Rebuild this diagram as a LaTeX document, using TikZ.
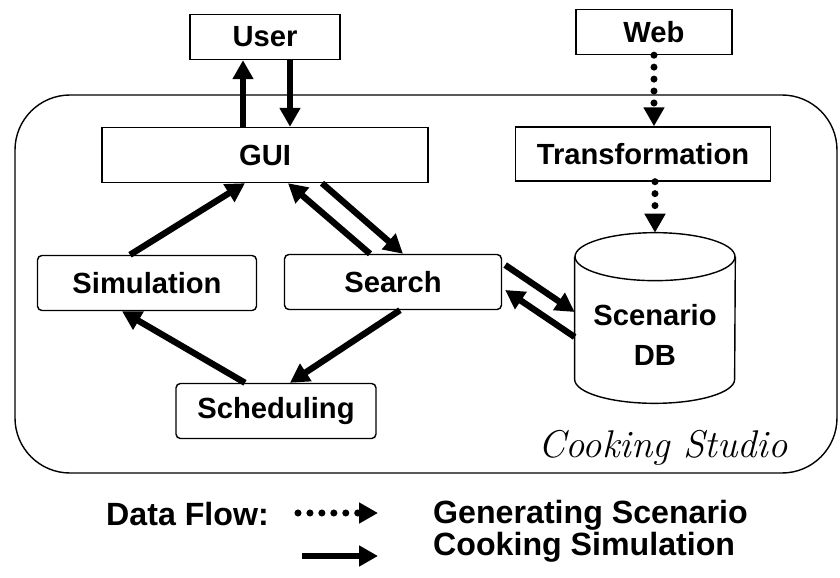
\documentclass[tikz,border=0pt]{standalone}
\usepackage{fontspec}
\newfontfamily\boxfont{Liberation Sans}
\usetikzlibrary{arrows.meta}
\newcommand\CylinderAround[1]{%
    \draw[line width=0.8pt] ([yshift=-0.48cm]#1.north) ellipse [x radius=1.6cm, y radius=0.48cm];
    \draw[line width=0.8pt] ([yshift=-0.48cm]#1.north west) -- ([yshift=0.48cm]#1.south west)
        arc [start angle=180, end angle=360, x radius=1.6cm, y radius=0.48cm]
        -- ([yshift=-0.48cm]#1.north east);
}

\begin{document}
\begin{tikzpicture}[x=0.02cm, y=-0.02cm,
    txt/.style={font=\boxfont\bfseries\fontsize{16.6}{23}\selectfont},
    box/.style={txt, draw, line width=0.8pt, inner sep=0pt},
    module/.style={box, rounded corners=2.5pt},
    legend/.style={font=\boxfont\bfseries\fontsize{18.3}{20}\selectfont},
    flow/.style={line width=3.6pt, -{Triangle[length=0.38cm, width=0.4cm]}},
    gen/.style={line width=4pt, line cap=round, dash pattern=on 0pt off 6.8pt,
        -{Triangle[length=0.38cm, width=0.4cm]}}]
    \useasboundingbox (0,0) rectangle (840,578);
    \draw[line width=0.8pt, rounded corners=1.1cm] (15,95) rectangle (837,473);
    \node[font=\fontsize{22}{24}\selectfont\itshape, anchor=base] (studio) at (663,457) {Cooking Studio};

    \node[box, minimum width=3.0cm, minimum height=0.9cm] (user) at (265,37) {User};
    \node[box, minimum width=3.12cm, minimum height=0.9cm] (web) at (654,32) {Web};
    \node[box, minimum width=6.52cm, minimum height=1.1cm] (gui) at (265,155) {GUI};
    \node[box, minimum width=5.1cm, minimum height=1.08cm] (trans) at (643,154) {Transformation};
    \node[module, minimum width=4.38cm, minimum height=1.1cm] (sim) at (147,283) {Simulation};
    \node[module, minimum width=4.34cm, minimum height=1.1cm] (search) at (393,282) {Search};
    \node[module, minimum width=4.0cm, minimum height=1.1cm] (sched) at (276,411) {Scheduling};
    \node[minimum width=3.2cm, minimum height=3.4cm, inner sep=0pt] (db) at (655,318) {};
    \CylinderAround{db}
    \node[txt, align=center] (dbname) at ([yshift=-0.34cm]db.center) {Scenario\\DB};

    % cooking simulation
    \draw[flow] ([xshift=-0.44cm]gui.north) -- ([xshift=-0.44cm]user.south);
    \draw[flow] ([xshift=0.5cm]user.south) -- ([xshift=0.5cm]gui.north);
    \draw[flow] ([xshift=-0.34cm]sim.north) -- ([xshift=-0.4cm]gui.south);
    \draw[flow] ([xshift=-0.46cm]search.north) -- ([xshift=0.46cm]gui.south);
    \draw[flow] ([xshift=1.14cm]gui.south) -- ([xshift=0.2cm]search.north);
    \draw[flow] ([xshift=0.14cm]search.south) -- ([xshift=0.28cm]sched.north);
    \draw[flow] ([xshift=-0.62cm]sched.north) -- ([xshift=-0.5cm]sim.south);
    \draw[flow] ([xshift=0.06cm, yshift=0.34cm]search.east) -- ([yshift=0.12cm]db.west);
    \draw[flow] ([yshift=-0.38cm]db.west) -- ([xshift=0.06cm, yshift=-0.16cm]search.east);

    % generating scenario
    \draw[gen] (web.south) -- (web.south |- trans.north);
    \draw[gen] (trans.south -| db.north) -- (db.north);

    % key
    \node[legend, anchor=base west] (key) at (100,525) {Data Flow:};
    \coordinate (genfrom) at (298,513);
    \coordinate (simfrom) at (302,556);
    \node[legend, anchor=base west] (genkey) at (427,523) {Generating Scenario};
    \node[legend, anchor=base west] (simkey) at (427,555) {Cooking Simulation};
    \draw[gen] (genfrom) -- (genfrom -| 378,0);
    \draw[flow] (simfrom) -- (simfrom -| 378,0);
\end{tikzpicture}
\end{document}
